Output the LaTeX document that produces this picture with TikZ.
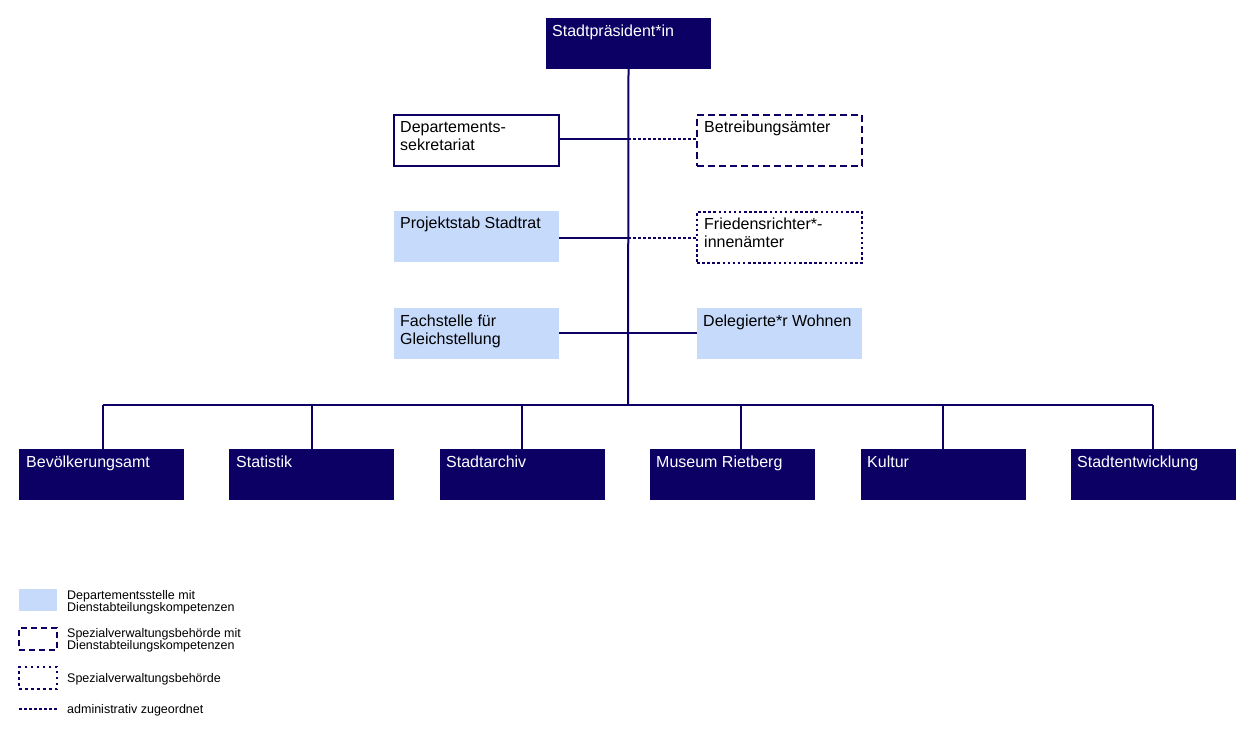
\documentclass[tikz,border=0pt]{standalone}
\usepackage{fontspec}
\setmainfont{Liberation Sans}
\definecolor{navy}{RGB}{12,0,100}
\definecolor{lblue}{RGB}{198,218,252}
\newcommand{\mlines}[1]{\parbox[t]{200pt}{\raggedright #1}}
\begin{document}
\begin{tikzpicture}[x=1pt,y=-1pt,
  box/.style={minimum width=165pt, minimum height=51pt, anchor=north west, inner sep=0pt, outer sep=0pt},
  dark/.style={box, fill=navy},
  light/.style={box, fill=lblue},
  wbox/.style={box, draw=navy, line width=1.5pt, fill=white},
  dbox/.style={box, draw=navy, line width=2.5pt, dash pattern=on 7pt off 4pt},
  obox/.style={box, draw=navy, line width=2.5pt, dash pattern=on 2.5pt off 2.6pt},
  lab/.style={anchor=base west, inner sep=0pt, font=\fontsize{16}{18}\selectfont, text=black},
  wlab/.style={lab, text=white},
  conn/.style={draw=navy, line width=2pt},
  dconn/.style={draw=navy, line width=1.6pt, dash pattern=on 3pt off 2pt},
  leg/.style={anchor=base west, inner sep=0pt, font=\fontsize{12.5}{12.5}\selectfont},
  lgbox/.style={minimum width=38pt, minimum height=22pt, anchor=north west, inner sep=0pt, outer sep=0pt}
]
\useasboundingbox (0,0) rectangle (1260,735);
% top
\node[dark] (top) at (546,18) {};
\node[wlab] (ttop) at ([xshift=6pt,yshift=-18.5pt]top.north west) {Stadtpräsident*in};
% left column
\node[wbox] (dep) at (394,115) {};
\node[lab] (tdep) at ([xshift=6pt,yshift=-17.5pt]dep.north west) {\mlines{Departements-\\sekretariat}};
\node[light] (proj) at (394,211) {};
\node[lab] (tproj) at ([xshift=6pt,yshift=-18pt]proj.north west) {Projektstab Stadtrat};
\node[light] (fach) at (394,308) {};
\node[lab] (tfach) at ([xshift=6pt,yshift=-18pt]fach.north west) {\mlines{Fachstelle für\\Gleichstellung}};
% right column
\node[dbox] (betr) at (697,115) {};
\node[lab] (tbetr) at ([xshift=7pt,yshift=-17.5pt]betr.north west) {Betreibungsämter};
\node[obox] (fried) at (697,212) {};
\node[lab] (tfried) at ([xshift=7pt,yshift=-17.5pt]fried.north west) {\mlines{Friedensrichter*-\\innenämter}};
\node[light] (deleg) at (697,308) {};
\node[lab] (tdeleg) at ([xshift=6pt,yshift=-18pt]deleg.north west) {Delegierte*r Wohnen};
% bottom row
\node[dark] (bev) at (19,449) {};
\node[wlab] (tbev) at ([xshift=7pt,yshift=-18.5pt]bev.north west) {Bevölkerungsamt};
\node[dark] (stat) at (229,449) {};
\node[wlab] (tstat) at ([xshift=7pt,yshift=-18.5pt]stat.north west) {Statistik};
\node[dark] (arch) at (440,449) {};
\node[wlab] (tarch) at ([xshift=6pt,yshift=-18.5pt]arch.north west) {Stadtarchiv};
\node[dark] (mus) at (650,449) {};
\node[wlab] (tmus) at ([xshift=6pt,yshift=-18.5pt]mus.north west) {Museum Rietberg};
\node[dark] (kul) at (861,449) {};
\node[wlab] (tkul) at ([xshift=6pt,yshift=-18.5pt]kul.north west) {Kultur};
\node[dark] (ent) at (1071,449) {};
\node[wlab] (tent) at ([xshift=6pt,yshift=-18.5pt]ent.north west) {Stadtentwicklung};
% connectors
\coordinate (bus) at (628,405);
\coordinate (d1) at (103,405);
\coordinate (d2) at (312,405);
\coordinate (d3) at (522,405);
\coordinate (d4) at (741,405);
\coordinate (d5) at (943,405);
\coordinate (d6) at (1153,405);
\draw[conn] (top.south) -- (bus);
\draw[conn] (d1) -- (d6);
\draw[conn] (d1) -- (d1 |- bev.north);
\draw[conn] (d2) -- (d2 |- stat.north);
\draw[conn] (d3) -- (d3 |- arch.north);
\draw[conn] (d4) -- (d4 |- mus.north);
\draw[conn] (d5) -- (d5 |- kul.north);
\draw[conn] (d6) -- (d6 |- ent.north);
\coordinate (j1) at (628,139);
\coordinate (j2) at (628,238);
\coordinate (j3) at (628,333);
\draw[conn] (dep.east |- j1) -- (j1);
\draw[dconn] (j1) -- (betr.west |- j1);
\draw[conn] (proj.east |- j2) -- (j2);
\draw[dconn] (j2) -- (fried.west |- j2);
\draw[conn] (fach.east |- j3) -- (deleg.west |- j3);
% legend
\node[lgbox, fill=lblue] (lg1) at (19,589) {};
\node[leg] (lt1) at (67,599) {\mlines{Departementsstelle mit\\Dienstabteilungskompetenzen}};
\node[lgbox, draw=navy, line width=2.5pt, dash pattern=on 6pt off 4pt] (lg2) at (19,628) {};
\node[leg] (lt2) at (67,637) {\mlines{Spezialverwaltungsbehörde mit\\Dienstabteilungskompetenzen}};
\node[lgbox, draw=navy, line width=2.5pt, dash pattern=on 2.5pt off 3.5pt] (lg3) at (19,667) {};
\node[leg] (lt3) at (67,682) {Spezialverwaltungsbehörde};
\coordinate (ll1) at (19,709);
\coordinate (ll2) at (57,709);
\draw[dconn] (ll1) -- (ll2);
\node[leg] (lt4) at (67,713) {administrativ zugeordnet};
\end{tikzpicture}
\end{document}
